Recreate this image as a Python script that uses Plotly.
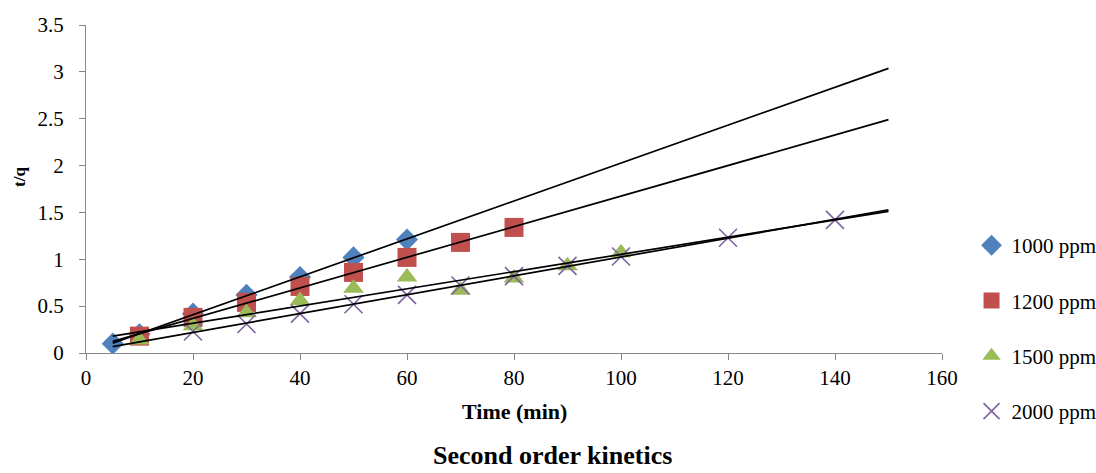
import numpy as np
import plotly.graph_objects as go

# Data
x_1000 = [5, 10, 20, 30, 40, 50, 60]
y_1000 = [0.10, 0.20, 0.42, 0.62, 0.81, 1.02, 1.21]

x_1200 = [10, 20, 30, 40, 50, 60, 70, 80]
y_1200 = [0.18, 0.38, 0.54, 0.71, 0.86, 1.02, 1.18, 1.34]

x_1500 = [10, 20, 30, 40, 50, 60, 70, 80, 90, 100]
y_1500 = [0.14, 0.29, 0.43, 0.56, 0.69, 0.81, 0.67, 0.80, 0.93, 1.07]

x_2000 = [20, 30, 40, 50, 60, 70, 80, 90, 100, 120, 140]
y_2000 = [0.23, 0.31, 0.42, 0.52, 0.62, 0.72, 0.82, 0.93, 1.03, 1.23, 1.42]

series_names = ["1000 ppm", "1200 ppm", "1500 ppm", "2000 ppm"]
trend_x_range = [5, 150]

x_ticks = [0, 20, 40, 60, 80, 100, 120, 140, 160]
y_ticks = [0, 0.5, 1, 1.5, 2, 2.5, 3, 3.5]

colors = ["#4F81BD", "#C0504D", "#9BBB59", "#8064A2"]
symbols = ["diamond", "square", "triangle-up", "x-thin"]
sizes = [17, 19, 18, 18]

FONT = "Liberation Serif, Times New Roman, serif"

fig = go.Figure()

data = [(x_1000, y_1000), (x_1200, y_1200), (x_1500, y_1500), (x_2000, y_2000)]

for i, (xs, ys) in enumerate(data):
    marker = dict(color=colors[i], symbol=symbols[i], size=sizes[i])
    if symbols[i] == "x-thin":
        marker["line"] = dict(color=colors[i], width=1.6)
    fig.add_trace(go.Scatter(x=xs, y=ys, mode="markers", name=series_names[i],
                             marker=marker, legendgroup=series_names[i]))

for i, (xs, ys) in enumerate(data):
    m, b = np.polyfit(xs, ys, 1)
    tx = np.array(trend_x_range, dtype=float)
    fig.add_trace(go.Scatter(x=tx, y=m * tx + b, mode="lines",
                             line=dict(color="black", width=1.7),
                             showlegend=False, hoverinfo="skip"))

fig.update_layout(
    width=1096, height=473,
    margin=dict(l=86, r=154, t=25, b=120, autoexpand=False),
    paper_bgcolor="white", plot_bgcolor="white",
    font=dict(family=FONT, size=21, color="black"),
    showlegend=True,
    legend=dict(x=1.0345, y=0.39, xanchor="left", yanchor="top",
                font=dict(family=FONT, size=21, color="black"),
                tracegroupgap=25, itemwidth=30, bgcolor="rgba(0,0,0,0)"),
    xaxis=dict(range=[0, 160], tickvals=x_ticks, showgrid=False, zeroline=False,
               showline=True, linecolor="#868686", linewidth=1.3,
               ticks="outside", ticklen=6, tickcolor="#868686",
               tickfont=dict(family=FONT, size=21)),
    yaxis=dict(range=[0, 3.5], tickvals=y_ticks, showgrid=False, zeroline=False,
               showline=True, linecolor="#868686", linewidth=1.3,
               ticks="outside", ticklen=6, tickcolor="#868686",
               ticklabelstandoff=11,
               tickfont=dict(family=FONT, size=21)),
    annotations=[
        dict(text="<b>Time (min)</b>", xref="paper", yref="paper", x=0.5, y=-0.177,
             xanchor="center", yanchor="middle", showarrow=False,
             font=dict(family=FONT, size=22)),
        dict(text="<b>t/q</b>", xref="paper", yref="paper", x=-0.077, y=0.537,
             xanchor="center", yanchor="middle", showarrow=False, textangle=-90,
             font=dict(family=FONT, size=17)),
        dict(text="<b>Second order kinetics</b>", xref="paper", yref="paper",
             x=0.5, y=-0.364, xanchor="center", yanchor="bottom", showarrow=False,
             xshift=38, font=dict(family=FONT, size=26)),
    ],
)

fig.write_html("out.html", config={"displayModeBar": False},
               post_script="document.body.style.margin='0';")
